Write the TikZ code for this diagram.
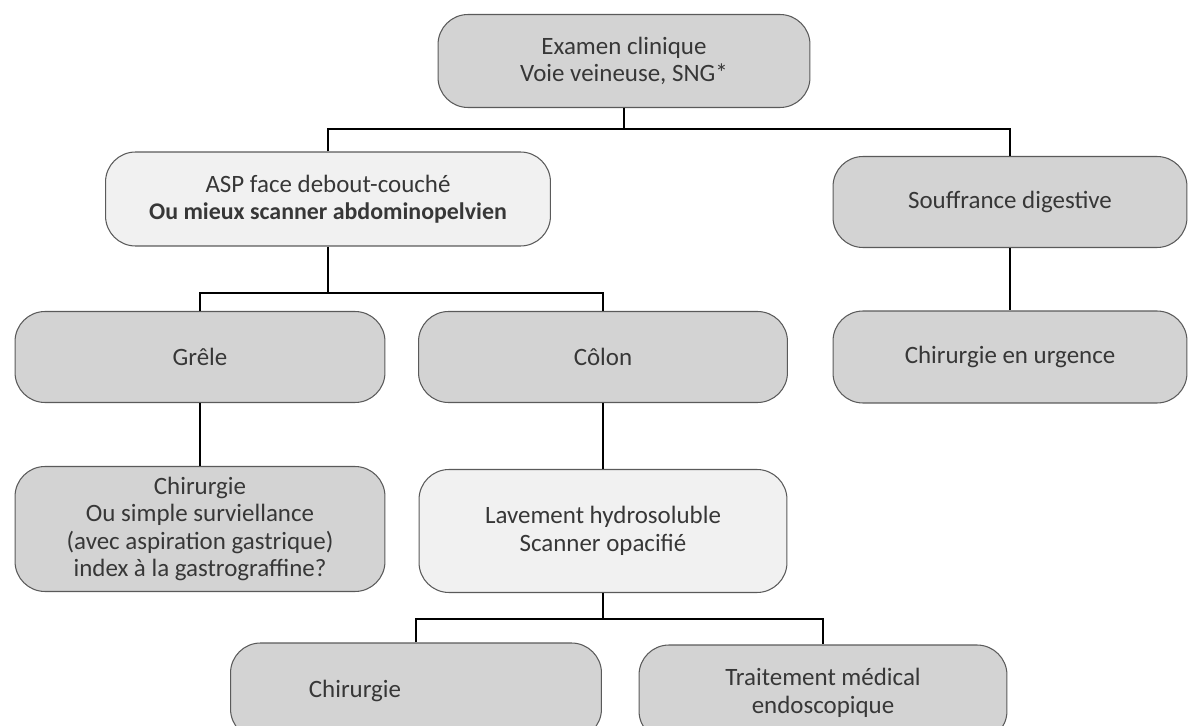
\documentclass[tikz,border=0pt]{standalone}
\usepackage{fontspec}
\setmainfont{Carlito}
\usepackage{tikz}
\usetikzlibrary{positioning}
\definecolor{boxgrey}{RGB}{211,211,211}
\definecolor{boxlight}{RGB}{241,241,241}
\definecolor{boxedge}{RGB}{90,90,90}
\definecolor{textgrey}{RGB}{55,55,55}
\tikzset
{
    greynode/.style = {rectangle, rounded corners=0.6cm, draw=boxedge, line width=0.6pt, fill=boxgrey, align=center, text=textgrey, font=\fontsize{14.2}{15.6}\selectfont, minimum height=1.82cm},
    lightnode/.style = {greynode, fill=boxlight},
    link/.style = {draw=black, line width=0.8pt}
}

\begin{document}
\begin{tikzpicture}[x=0.02cm, y=-0.02cm]
	\useasboundingbox (0,0) rectangle (1188,726);
	\node[greynode, minimum width=7.44cm, minimum height=1.86cm] (clinique) at (624,61) {Examen clinique\\Voie veineuse, SNG*};
	\node[lightnode, minimum width=8.9cm, minimum height=1.88cm] (asp) at (328,199) {ASP face debout-couché\\{\fontsize{13.6}{15.6}\selectfont\bfseries Ou mieux scanner abdominopelvien}};
	\node[greynode, minimum width=7.08cm] (souffrance) at (1010,202) {Souffrance digestive};
	\node[greynode, minimum width=7.08cm, minimum height=1.84cm] (urgence) at (1010,357) {Chirurgie en urgence};
	\node[greynode, minimum width=7.4cm] (grele) at (200,357) {Grêle};
	\node[greynode, minimum width=7.38cm] (colon) at (603,357) {Côlon};
	\node[greynode, minimum width=7.4cm, minimum height=2.5cm] (chirgrele) at (200,529) {Chirurgie\\Ou simple surviellance\\(avec aspiration gastrique)\\index à la gastrograffine?};
	\node[lightnode, minimum width=7.36cm, minimum height=2.46cm] (lavement) at (603,531) {Lavement hydrosoluble\\Scanner opacifié};
	\node[greynode, minimum width=7.42cm, minimum height=1.92cm] (chircolon) at (416,691) {Chirurgie\hspace*{2.44cm}};
	\node[greynode, minimum width=7.36cm, minimum height=1.92cm] (traitement) at (823,693) {Traitement médical\\endoscopique};

	\coordinate (j1) at (624,129);
	\coordinate (j2) at (328,293);
	\coordinate (j3) at (603,619);
	\draw[link] (clinique) -- (j1);
	\draw[link] (asp.north) |- (j1) -| (souffrance.north);
	\draw[link] (asp) -- (j2);
	\draw[link] (grele.north) |- (j2) -| (colon.north);
	\draw[link] (souffrance) -- (urgence);
	\draw[link] (grele) -- (chirgrele);
	\draw[link] (colon) -- (lavement);
	\draw[link] (lavement) -- (j3);
	\draw[link] (chircolon.north) |- (j3) -| (traitement.north);
\end{tikzpicture}
\end{document}
